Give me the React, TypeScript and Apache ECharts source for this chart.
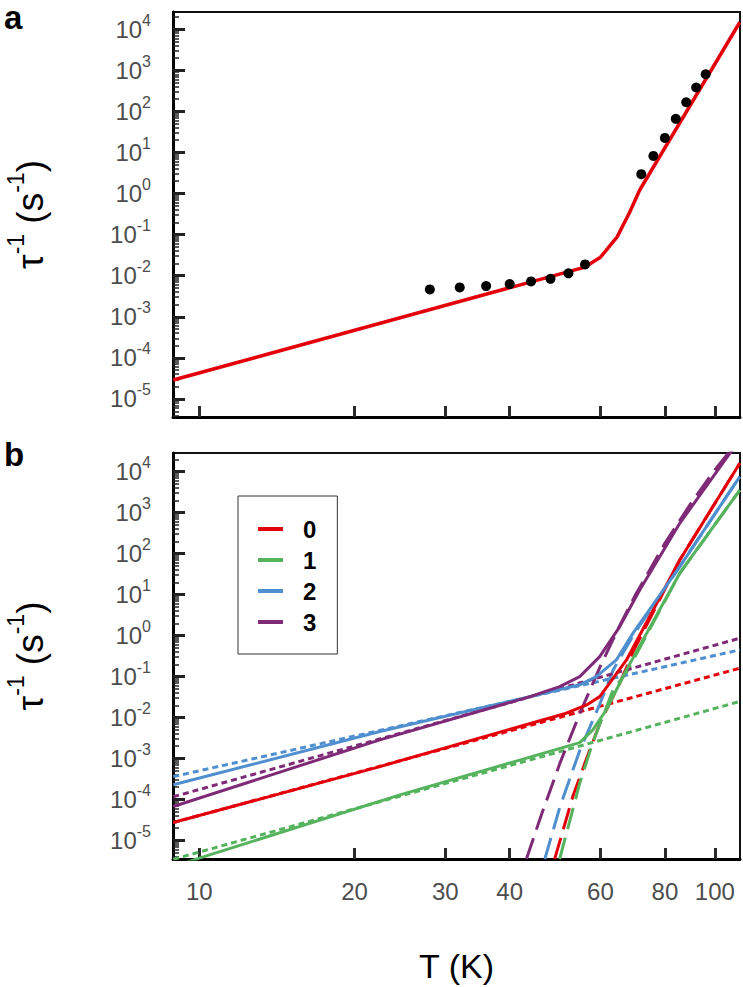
import React, { useEffect, useRef } from "react";
import * as echarts from "echarts";

const FONT = "'Liberation Sans', Arial, Helvetica, sans-serif";

// ---------- axis ticks ----------
const xTickLabels = [10, 20, 30, 40, 60, 80, 100];
const yTickExponents = [-5, -4, -3, -2, -1, 0, 1, 2, 3, 4];
const T_MIN = 8.89;
const T_MAX = 111.9;
const A_RATE_MIN = 3.63e-6; // 10^-5.44
const A_RATE_MAX = 26300; // 10^4.42
const B_RATE_MIN = 3.55e-6; // 10^-5.45
const B_RATE_MAX = 28500; // 10^4.455

// ---------- panel a ----------
const aFitTemps = [8.9, 56, 60, 64.6, 68.4, 71.5, 111.8];
const aFitRates = [2.88e-5, 0.0162, 0.0282, 0.0871, 0.355, 1.22, 14800];
const aDotTemps = [28, 32, 36, 40, 44, 48, 52, 56, 72, 76, 80, 84, 88, 92, 96];
const aDotRates = [0.00464, 0.00519, 0.00558, 0.00625, 0.00726, 0.0084, 0.0114, 0.0188, 2.97, 8.26, 22.6, 65.8, 167, 381, 804];

// ---------- panel b ----------
const seriesNames = ["0", "1", "2", "3"];
const seriesColors = ["#e3000b", "#55b35d", "#4f8fcf", "#7e2a77"];

// total (solid)
const total0T = [8.9, 22.4, 51.5, 56.4, 59.8, 62.5, 67.4, 85.5, 111.8];
const total0R = [2.75e-5, 6.38e-4, 0.0128, 0.0204, 0.0325, 0.069, 0.255, 70.1, 16000];
const total1T = [8.9, 10, 24.5, 54.7, 58, 61.6, 67.4, 85.5, 111.8];
const total1R = [2.34e-6, 3.72e-6, 1.3e-4, 2.45e-3, 5.01e-3, 0.0155, 0.146, 33.3, 3550];
const total2T = [8.9, 22.4, 43.8, 54.7, 58.9, 64.4, 69.4, 85.5, 111.8];
const total2R = [2.29e-4, 4.57e-3, 0.0324, 0.0631, 0.1, 0.255, 1.15, 48.2, 7590];
const total3T = [8.9, 22.4, 43.8, 50, 54.7, 59.8, 65.4, 71.5, 85.5, 107, 111.8];
const total3R = [6.76e-5, 2.86e-3, 0.0325, 0.057, 0.1, 0.308, 1.66, 13.0, 550, 28200, 56200];

// low-T process (short dashes)
const raman0T = [8.9, 111.8];
const raman0R = [2.75e-5, 0.16];
const raman1T = [8.9, 111.8];
const raman1R = [3.49e-6, 0.0247];
const raman2T = [8.9, 111.8];
const raman2R = [3.63e-4, 0.448];
const raman3T = [8.9, 111.8];
const raman3R = [1.17e-4, 0.865];

// high-T process (long dashes)
const orbach0T = [48.9, 53.1, 56, 60, 65.4, 70, 85.5, 111.8];
const orbach0R = [3.55e-6, 1.26e-4, 7.9e-4, 7.9e-3, 0.069, 0.5, 70.1, 16000];
const orbach1T = [50, 54.7, 58, 63.5, 67.4, 85.5, 111.8];
const orbach1R = [3.55e-6, 2.51e-4, 2.51e-3, 0.0479, 0.126, 33.1, 3550];
const orbach2T = [46.8, 50, 54.7, 59.7, 63.5, 69.4, 85.5, 111.8];
const orbach2R = [3.55e-6, 6.31e-5, 1.58e-3, 0.02, 0.145, 1.0, 48.2, 7590];
const orbach3T = [43.1, 46, 50, 55, 60, 65, 70, 80, 90, 100, 111.8];
const orbach3R = [3.55e-6, 3.98e-5, 7.41e-4, 0.0148, 0.182, 1.51, 9.33, 178, 1740, 11000, 63100];

const totalsT = [total0T, total1T, total2T, total3T];
const totalsR = [total0R, total1R, total2R, total3R];
const ramanT = [raman0T, raman1T, raman2T, raman3T];
const ramanR = [raman0R, raman1R, raman2R, raman3R];
const orbachT = [orbach0T, orbach1T, orbach2T, orbach3T];
const orbachR = [orbach0R, orbach1R, orbach2R, orbach3R];

const lg = Math.log10;
const pairs = (ts: number[], rs: number[]) => ts.map((t, i) => [lg(t), lg(rs[i])]);

const LABEL_GRAY = "#4d4d4d";

function xAxis(gridIndex: number, showLabels: boolean) {
  const ticks = xTickLabels.map((v) => lg(v));
  const ax: any = {
    type: "value",
    gridIndex,
    min: lg(T_MIN),
    max: lg(T_MAX),
    position: "bottom",
    axisLine: { show: true, onZero: false, lineStyle: { color: "#000", width: 3 } },
    axisTick: { show: true, inside: true, length: 11, lineStyle: { color: "#2b2b2b", width: 3 }, customValues: ticks },
    axisLabel: {
      show: showLabels,
      customValues: ticks,
      margin: 20,
      fontSize: 24,
      color: LABEL_GRAY,
      fontFamily: FONT,
      formatter: (v: number) => String(Math.round(Math.pow(10, v))),
    },
    splitLine: { show: false },
  };
  if (showLabels) {
    ax.name = "T (K)";
    ax.nameLocation = "middle";
    ax.nameGap = 90;
    ax.nameTextStyle = { fontSize: 34, color: "#000", fontFamily: FONT };
  }
  return ax;
}

function yAxes(gridIndex: number, rmin: number, rmax: number) {
  const min = lg(rmin);
  const max = lg(rmax);
  const minor: number[] = [];
  for (let n = -6; n <= 4; n++) {
    for (let k = 2; k <= 9; k++) {
      const v = n + lg(k);
      if (v > min && v < max) minor.push(v);
    }
  }
  return [
    {
      type: "value",
      gridIndex,
      min,
      max,
      position: "left",
      axisLine: { show: true, onZero: false, lineStyle: { color: "#000", width: 3 } },
      axisTick: { show: true, inside: true, length: 12, lineStyle: { color: "#222", width: 3 }, customValues: yTickExponents },
      axisLabel: {
        show: true,
        margin: 22,
        customValues: yTickExponents,
        formatter: (v: number) => `{b|10}{s|${Math.round(v)}}`,
        rich: {
          b: { fontSize: 24, lineHeight: 24, color: LABEL_GRAY, fontFamily: FONT, padding: [12, 0, 0, 0], verticalAlign: "bottom" },
          s: { fontSize: 16, lineHeight: 16, color: LABEL_GRAY, fontFamily: FONT, padding: [0, 0, 13, 0], verticalAlign: "bottom" },
        },
      },
      splitLine: { show: false },
      name: "{t|τ}{s|-1}{t| (s}{s|-1}{t|)}",
      nameLocation: "middle",
      nameRotate: 90,
      nameGap: 124,
      nameTextStyle: {
        rich: {
          t: { fontSize: 37, lineHeight: 37, color: "#000", fontFamily: FONT, padding: [14, 0, 0, 0], verticalAlign: "bottom" },
          s: { fontSize: 23, lineHeight: 23, color: "#000", fontFamily: FONT, padding: [0, 0, 22, 0], verticalAlign: "bottom" },
        },
      },
    },
    {
      type: "value",
      gridIndex,
      min,
      max,
      position: "left",
      offset: 0,
      axisLine: { show: false },
      axisTick: { show: true, inside: true, length: 6, lineStyle: { color: "#222", width: 1.5 }, customValues: minor },
      axisLabel: { show: false },
      splitLine: { show: false },
    },
  ];
}

function line(name: string, ts: number[], rs: number[], color: string, dash: any, width: number, z: number) {
  return {
    type: "line",
    name,
    xAxisIndex: 1,
    yAxisIndex: 2,
    data: pairs(ts, rs),
    showSymbol: false,
    symbol: "none",
    clip: true,
    silent: true,
    z,
    itemStyle: { color },
    lineStyle: { color, width, type: dash, cap: "butt" },
  };
}

export default function App() {
  const ref = useRef<HTMLDivElement>(null);
  useEffect(() => {
    if (!ref.current) return;
    const chart = echarts.init(ref.current, undefined, { renderer: "svg" });
    const series: any[] = [
      {
        type: "line",
        name: "fit a",
        xAxisIndex: 0,
        yAxisIndex: 0,
        data: pairs(aFitTemps, aFitRates),
        showSymbol: false,
        symbol: "none",
        clip: true,
        silent: true,
        lineStyle: { color: "#e3000b", width: 3.5 },
        itemStyle: { color: "#e3000b" },
        z: 3,
      },
      {
        type: "scatter",
        name: "data a",
        xAxisIndex: 0,
        yAxisIndex: 0,
        data: pairs(aDotTemps, aDotRates),
        symbol: "circle",
        symbolSize: 10,
        itemStyle: { color: "#000", opacity: 1 },
        silent: true,
        z: 4,
      },
    ];
    for (let i = 0; i < 4; i++) {
      series.push(line(seriesNames[i] + " low", ramanT[i], ramanR[i], seriesColors[i], [6, 4], 3, 2));
      series.push(line(seriesNames[i] + " high", orbachT[i], orbachR[i], seriesColors[i], [22, 9], 3, 2));
    }
    for (let i = 0; i < 4; i++) {
      series.push(line(seriesNames[i], totalsT[i], totalsR[i], seriesColors[i], "solid", 3, 3));
    }
    const option: any = {
      animation: false,
      backgroundColor: "#fff",
      textStyle: { fontFamily: FONT },
      grid: [
        { left: 173, top: 12, width: 567, height: 405, show: true, borderColor: "#111", borderWidth: 2, outerBoundsMode: "none" },
        { left: 173, top: 453, width: 567, height: 406, show: true, borderColor: "#111", borderWidth: 2, outerBoundsMode: "none" },
      ],
      xAxis: [xAxis(0, false), xAxis(1, true)],
      yAxis: [...yAxes(0, A_RATE_MIN, A_RATE_MAX), ...yAxes(1, B_RATE_MIN, B_RATE_MAX)],
      legend: {
        data: seriesNames,
        orient: "vertical",
        left: 238,
        top: 496,
        padding: [21, 21, 20, 20],
        itemWidth: 25,
        itemHeight: 4,
        itemGap: 7,
        icon: "rect",
        borderColor: "#333",
        borderWidth: 1,
        selectedMode: false,
        textStyle: { fontSize: 24, lineHeight: 24, fontWeight: "bold", color: "#000", fontFamily: FONT, padding: [0, 0, 0, 15] },
      },
      graphic: [
        { type: "text", left: 4, top: 1, style: { text: "a", fontSize: 33, fontWeight: "bold", fontFamily: FONT, fill: "#000" } },
        { type: "text", left: 4, top: 438, style: { text: "b", fontSize: 33, fontWeight: "bold", fontFamily: FONT, fill: "#000" } },
      ],
      series,
    };
    chart.setOption(option);
    return () => chart.dispose();
  }, []);
  return <div ref={ref} style={{ position: "fixed", left: 0, top: 0, width: 743, height: 987 }} />;
}
